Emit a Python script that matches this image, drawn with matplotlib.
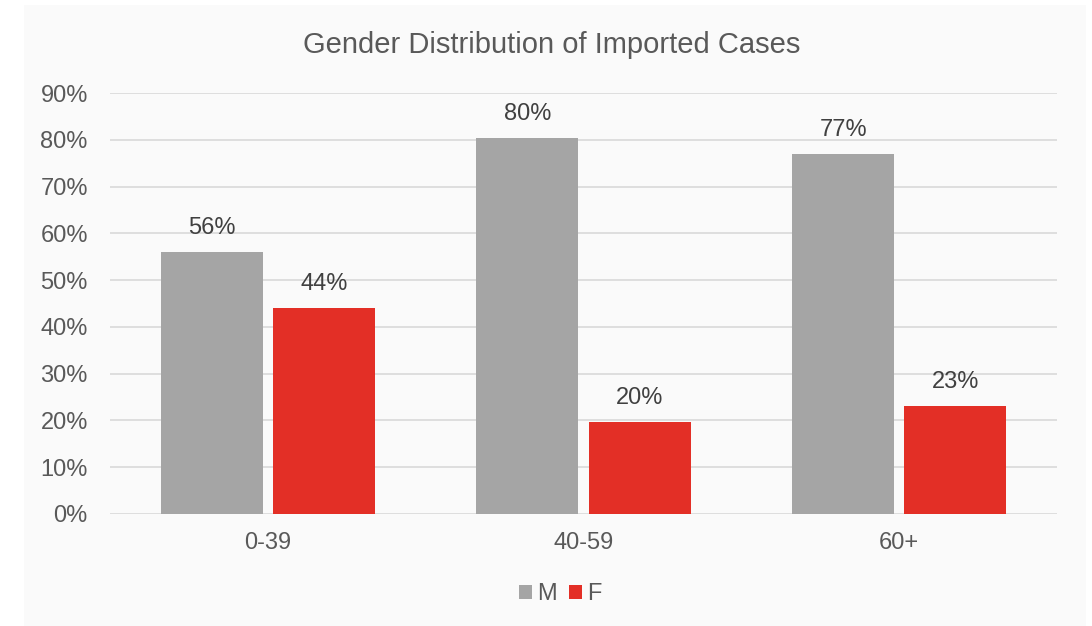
import matplotlib
matplotlib.use("Agg")
import matplotlib.pyplot as plt
from matplotlib.patches import Rectangle
import numpy as np

plt.rcParams['font.family'] = ['Liberation Sans', 'DejaVu Sans']

categories = ["0-39", "40-59", "60+"]
male = [56, 80.3, 77]
female = [44, 19.6, 23]
male_labels = ["56%", "80%", "77%"]
female_labels = ["44%", "20%", "23%"]
yticks = [0, 10, 20, 30, 40, 50, 60, 70, 80, 90]

W, H = 1092, 626
fig = plt.figure(figsize=(W / 100, H / 100), dpi=100)
fig.patch.set_facecolor("white")
fig.patches.append(Rectangle((24 / W, 0), (1086 - 24) / W, 1 - 5 / H,
                             transform=fig.transFigure, facecolor="#fafafa",
                             edgecolor="none", zorder=-10))

ax = fig.add_axes([110 / W, 1 - 514 / H, (1057 - 110) / W, (514 - 93) / H])
ax.set_facecolor("none")
x = np.arange(len(categories))
bw = 0.323
gap = 0.032
grey = "#a5a5a5"
red = "#e32f26"
txt = "#595959"
bm = ax.bar(x - bw / 2 - gap / 2, male, bw, color=grey, label="M", zorder=3)
bf = ax.bar(x + bw / 2 + gap / 2, female, bw, color=red, label="F", zorder=3)
for rects, labs in ((bm, male_labels), (bf, female_labels)):
    for r, lab in zip(rects, labs):
        ax.annotate(lab, (r.get_x() + r.get_width() / 2, r.get_height()),
                    xytext=(0, 9.5), textcoords="offset points",
                    ha="center", va="bottom", fontsize=17, color="#404040")

ax.set_xlim(-0.5, 2.5)
ax.set_ylim(0, 90)
ax.set_yticks(yticks)
ax.set_yticklabels([f"{v}%" for v in yticks])
ax.set_xticks(x)
ax.set_xticklabels(categories)
ax.tick_params(axis="both", length=0, labelsize=17, labelcolor=txt)
ax.tick_params(axis="y", pad=16)
ax.tick_params(axis="x", pad=13)
ax.grid(axis="y", color="#d9d9d9", linewidth=1.2, zorder=0)
for s in ax.spines.values():
    s.set_visible(False)

fig.text(552 / W, 1 - 45 / H, "Gender Distribution of Imported Cases",
         ha="center", va="center", fontsize=21, color=txt)

leg = fig.legend(handles=[bm, bf], labels=["M", "F"], loc="center",
                 bbox_to_anchor=(560 / W, 1 - 594 / H), ncol=2, frameon=False,
                 fontsize=17, handlelength=0.55, handleheight=0.55,
                 handletextpad=0.22, columnspacing=0.5)
for t in leg.get_texts():
    t.set_color(txt)

fig.savefig("out.png", dpi=100, facecolor="white")
